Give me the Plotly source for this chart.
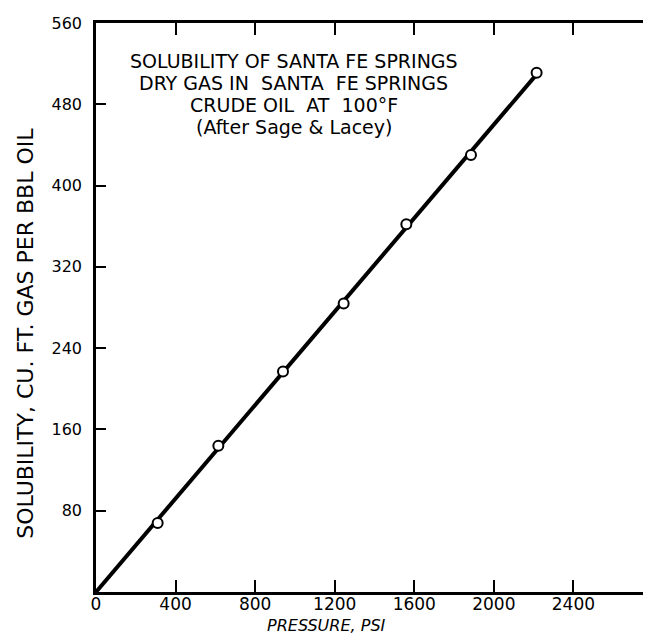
import plotly.graph_objects as go

# Data
pressure_psi = [310, 615, 940, 1245, 1560, 1885, 2215]
solubility = [68, 144, 217, 284, 362, 430, 511]

x_tickvals = [0, 400, 800, 1200, 1600, 2000, 2400]
x_ticktext = ["0", "400", "800", "1200", "1600", "2000", "2400"]
y_tickvals = [80, 160, 240, 320, 400, 480, 560]
y_ticktext = ["80", "160", "240", "320", "400", "480", "560"]

title_lines = [
    "SOLUBILITY OF SANTA FE SPRINGS",
    "DRY GAS IN  SANTA  FE SPRINGS",
    "CRUDE OIL  AT  100°F",
    "(After Sage & Lacey)",
]

# straight line through origin fitted to the data
slope = sum(x * y for x, y in zip(pressure_psi, solubility)) / sum(x * x for x in pressure_psi)
line_x = [0, max(pressure_psi)]
line_y = [v * slope for v in line_x]

FONT = "DejaVu Sans"

fig = go.Figure()
fig.add_trace(go.Scatter(
    x=line_x, y=line_y, mode="lines",
    line=dict(color="black", width=4), showlegend=False, hoverinfo="skip",
))
fig.add_trace(go.Scatter(
    x=pressure_psi, y=solubility, mode="markers",
    marker=dict(symbol="circle", size=10, color="white",
                line=dict(color="black", width=2)),
    showlegend=False,
))

# title block, one annotation per line for tighter line spacing
for i, txt in enumerate(title_lines):
    fig.add_annotation(
        text=txt, xref="paper", yref="paper",
        x=0.355, y=0.933 - i * 0.0385, xanchor="center", yanchor="middle",
        showarrow=False, font=dict(family=FONT, size=19, color="black"),
    )

fig.add_annotation(
    text="SOLUBILITY, CU. FT. GAS PER BBL OIL", xref="paper", yref="paper",
    x=-0.128, y=0.455, xanchor="center", yanchor="middle", textangle=-90,
    showarrow=False, font=dict(family=FONT, size=22, color="black"),
)
fig.add_annotation(
    text="<i>PRESSURE, PSI</i>", xref="paper", yref="paper",
    x=0.414, y=-0.059, xanchor="center", yanchor="middle",
    showarrow=False, font=dict(family=FONT, size=16, color="black"),
)

fig.update_xaxes(
    range=[0, 2800], tickvals=x_tickvals, ticktext=x_ticktext,
    ticks="inside", ticklen=12, tickwidth=2, tickcolor="black",
    showline=True, linecolor="black", linewidth=2.5, mirror="ticks",
    showgrid=False, zeroline=False, ticklabelstandoff=-5,
    tickfont=dict(family=FONT, size=17, color="black"),
)
fig.update_yaxes(
    range=[0, 560], tickvals=y_tickvals, ticktext=y_ticktext,
    ticks="inside", ticklen=10, tickwidth=2, tickcolor="black",
    showline=True, linecolor="black", linewidth=2.5, mirror="ticks",
    showgrid=False, zeroline=False, ticklabelstandoff=8,
    tickfont=dict(family=FONT, size=16, color="black"),
)

fig.update_layout(
    width=651, height=635,
    margin=dict(l=88, r=3, t=15, b=51),
    paper_bgcolor="white", plot_bgcolor="white",
)

fig.write_html("out.html")
